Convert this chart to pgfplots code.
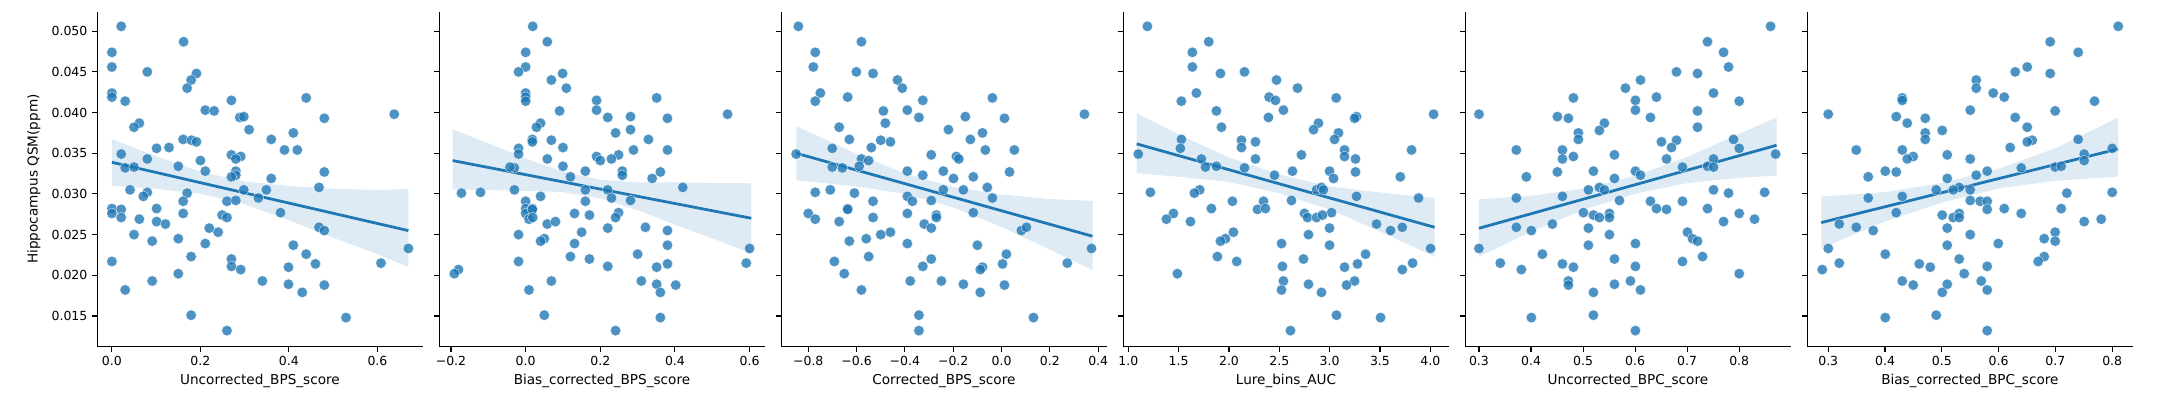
\documentclass[border=0pt]{standalone}
\usepackage{fontspec}
\setmainfont{DejaVu Sans}
\usepackage{pgfplots}
\pgfplotsset{compat=1.18}
\definecolor{sb}{HTML}{1F77B4}

\pgfplotsset{
  panel/.style={
    scale only axis, width=234.2pt, height=241.2pt,
    anchor=south west,
    ymin=0.01123, ymax=0.0524,
    axis x line*=bottom, axis y line*=left,
    axis line style={-, line width=0.8pt, black},
    tick align=outside, major tick length=3.6pt,
    every tick/.style={black, line width=0.8pt},
    scaled x ticks=false, scaled y ticks=false,
    ytick={0.015,0.020,0.025,0.030,0.035,0.040,0.045,0.050},
    yticklabels={},
    tick label style={font=\fontsize{9}{10}\selectfont},
    label style={font=\fontsize{9.8}{11}\selectfont},
    xlabel style={at={(axis description cs:0.5,-0.1016)}, anchor=center},
    ylabel style={at={(axis description cs:-0.1947,0.5)}, anchor=center},
  },
  pts/.style={only marks, mark=*, mark size=3.8pt,
    mark options={fill=sb, draw=white, line width=0.3pt, opacity=0.8}},
  fit/.style={sb, line width=2pt, no marks},
  band/.style={draw=none, fill=sb, fill opacity=0.15, no marks},
}

\begin{document}
\begin{tikzpicture}
\path[use as bounding box] (0,0) rectangle (1555.2pt,288pt);

% ---- panel 1
\begin{axis}[panel, at={(70.06pt,38.4pt)},
  xmin=-0.033, xmax=0.702,
  xtick={0,0.2,0.4,0.6}, xticklabels={0.0,0.2,0.4,0.6},
  yticklabels={0.015,0.020,0.025,0.030,0.035,0.040,0.045,0.050},
  xlabel={Uncorrected\_BPS\_score}, ylabel={Hippocampus QSM(ppm)}]
\addplot[pts] table {
0.021 0.0506
0.162 0.0487
0.000 0.0474
0.000 0.0456
0.080 0.0450
0.191 0.0448
0.179 0.0440
0.170 0.0430
0.000 0.0424
0.000 0.0419
0.030 0.0414
0.270 0.0415
0.439 0.0418
0.211 0.0403
0.231 0.0402
0.289 0.0394
0.298 0.0395
0.480 0.0393
0.638 0.0398
0.062 0.0387
0.050 0.0382
0.310 0.0379
0.410 0.0375
0.360 0.0367
0.161 0.0367
0.180 0.0366
0.191 0.0364
0.129 0.0357
0.101 0.0356
0.390 0.0354
0.419 0.0354
0.021 0.0349
0.270 0.0348
0.291 0.0346
0.280 0.0343
0.080 0.0343
0.200 0.0341
0.150 0.0334
0.030 0.0332
0.050 0.0333
0.211 0.0328
0.280 0.0328
0.280 0.0323
0.270 0.0321
0.480 0.0327
0.360 0.0319
0.468 0.0308
0.041 0.0305
0.080 0.0302
0.170 0.0301
0.298 0.0305
0.349 0.0305
0.071 0.0297
0.331 0.0295
0.161 0.0291
0.260 0.0291
0.280 0.0292
0.000 0.0282
0.021 0.0281
0.101 0.0282
0.000 0.0276
0.161 0.0276
0.381 0.0277
0.021 0.0271
0.062 0.0269
0.101 0.0266
0.121 0.0263
0.249 0.0274
0.260 0.0271
0.220 0.0258
0.240 0.0253
0.468 0.0259
0.480 0.0255
0.050 0.0250
0.150 0.0245
0.091 0.0242
0.211 0.0239
0.410 0.0237
0.670 0.0233
0.439 0.0226
0.179 0.0223
0.000 0.0217
0.270 0.0220
0.270 0.0211
0.460 0.0214
0.608 0.0215
0.399 0.0210
0.291 0.0207
0.150 0.0202
0.091 0.0193
0.340 0.0193
0.399 0.0189
0.480 0.0188
0.030 0.0182
0.430 0.0179
0.179 0.0151
0.529 0.0148
0.260 0.0132
};
\addplot[band] coordinates {
(0,0.03672) (0.1,0.03464) (0.2,0.03273) (0.3,0.03153) (0.4,0.03097) (0.5,0.03062) (0.6,0.0305) (0.67,0.0306)
(0.67,0.0210) (0.6,0.0226) (0.5,0.02462) (0.4,0.02677) (0.3,0.02873) (0.2,0.03003) (0.1,0.03064) (0,0.0310)};
\addplot[fit] coordinates {(0,0.03389) (0.67,0.02549)};
\end{axis}

% ---- panel 2
\begin{axis}[panel, at={(316.3pt,38.4pt)},
  xmin=-0.2313, xmax=0.6402,
  xtick={-0.2,0,0.2,0.4,0.6}, xticklabels={−0.2,0.0,0.2,0.4,0.6},
  xlabel={Bias\_corrected\_BPS\_score}]
\addplot[pts] table {
0.019 0.0506
0.058 0.0487
0.000 0.0474
0.000 0.0456
-0.019 0.0450
0.099 0.0448
0.069 0.0440
0.109 0.0430
0.000 0.0424
0.000 0.0419
0.000 0.0414
0.190 0.0415
0.351 0.0418
0.190 0.0403
0.091 0.0402
0.220 0.0394
0.281 0.0395
0.380 0.0393
0.541 0.0398
0.040 0.0387
0.029 0.0382
0.281 0.0379
0.241 0.0375
0.329 0.0367
0.018 0.0367
0.069 0.0366
0.018 0.0364
0.100 0.0357
-0.019 0.0356
0.289 0.0354
0.380 0.0354
-0.019 0.0349
0.190 0.0346
0.249 0.0348
0.230 0.0343
0.058 0.0343
0.200 0.0341
0.100 0.0334
-0.030 0.0332
-0.042 0.0333
0.160 0.0328
0.259 0.0328
0.259 0.0323
0.120 0.0321
0.361 0.0327
0.339 0.0319
0.421 0.0308
-0.030 0.0305
-0.172 0.0301
-0.121 0.0302
0.160 0.0305
0.220 0.0305
0.040 0.0297
0.230 0.0295
0.000 0.0291
0.160 0.0291
0.281 0.0292
0.000 0.0282
0.018 0.0282
0.000 0.0276
0.018 0.0281
0.131 0.0276
0.249 0.0277
0.009 0.0269
0.019 0.0271
0.058 0.0263
0.080 0.0266
0.171 0.0274
0.241 0.0271
0.220 0.0258
0.150 0.0253
0.321 0.0259
0.380 0.0255
-0.019 0.0250
0.050 0.0245
0.040 0.0242
0.131 0.0239
0.380 0.0237
0.600 0.0233
0.300 0.0226
0.120 0.0223
-0.019 0.0217
0.171 0.0220
0.220 0.0211
0.380 0.0214
0.591 0.0215
0.351 0.0210
-0.180 0.0207
-0.191 0.0202
0.069 0.0193
0.310 0.0193
0.351 0.0189
0.402 0.0188
0.009 0.0182
0.361 0.0179
0.050 0.0151
0.361 0.0148
0.241 0.0132
};
\addplot[band] coordinates {
(-0.1955,0.03795) (0,0.03437) (0.1,0.03273) (0.2,0.03175) (0.3,0.03141) (0.4,0.03142) (0.5,0.03134) (0.6045,0.03131)
(0.6045,0.02271) (0.5,0.02454) (0.4,0.02622) (0.3,0.02801) (0.2,0.02945) (0.1,0.03023) (0,0.03037) (-0.1955,0.03057)};
\addplot[fit] coordinates {(-0.1955,0.03410) (0.6045,0.02701)};
\end{axis}

% ---- panel 3
\begin{axis}[panel, at={(562.5pt,38.4pt)},
  xmin=-0.9118, xmax=0.4345,
  xtick={-0.8,-0.6,-0.4,-0.2,0,0.2,0.4},
  xticklabels={−0.8,−0.6,−0.4,−0.2,0.0,0.2,0.4},
  xlabel={Corrected\_BPS\_score}]
\addplot[pts] table {
-0.841 0.0506
-0.580 0.0487
-0.771 0.0474
-0.779 0.0456
-0.601 0.0450
-0.532 0.0448
-0.431 0.0440
-0.411 0.0430
-0.750 0.0424
-0.637 0.0419
-0.771 0.0414
-0.326 0.0415
-0.038 0.0418
-0.390 0.0403
-0.489 0.0402
-0.342 0.0394
-0.150 0.0395
0.012 0.0393
0.343 0.0398
-0.481 0.0387
-0.672 0.0382
-0.220 0.0379
-0.079 0.0375
-0.630 0.0367
-0.500 0.0366
-0.129 0.0367
-0.460 0.0364
-0.539 0.0357
-0.701 0.0356
-0.067 0.0354
0.053 0.0354
-0.850 0.0349
-0.291 0.0348
-0.187 0.0346
-0.177 0.0343
-0.580 0.0343
-0.550 0.0341
-0.589 0.0334
-0.701 0.0333
-0.659 0.0332
-0.390 0.0328
-0.241 0.0328
-0.326 0.0323
-0.199 0.0319
0.033 0.0327
-0.117 0.0321
-0.059 0.0308
-0.771 0.0302
-0.709 0.0305
-0.609 0.0301
-0.241 0.0305
-0.158 0.0305
-0.390 0.0297
-0.038 0.0295
-0.532 0.0291
-0.369 0.0291
-0.291 0.0292
-0.637 0.0282
-0.637 0.0281
-0.800 0.0276
-0.390 0.0276
-0.117 0.0277
-0.270 0.0274
-0.771 0.0269
-0.672 0.0266
-0.532 0.0271
-0.320 0.0263
-0.270 0.0271
-0.291 0.0258
-0.500 0.0250
-0.460 0.0253
0.082 0.0255
0.103 0.0259
-0.560 0.0245
-0.630 0.0242
-0.390 0.0239
-0.100 0.0237
0.372 0.0233
0.020 0.0226
-0.550 0.0223
-0.692 0.0217
-0.291 0.0220
-0.326 0.0211
0.004 0.0214
0.272 0.0215
-0.079 0.0210
-0.088 0.0207
-0.651 0.0202
-0.378 0.0193
-0.249 0.0193
-0.158 0.0189
0.012 0.0188
-0.580 0.0182
-0.088 0.0179
-0.342 0.0151
0.132 0.0148
-0.342 0.0132
};
\addplot[band] coordinates {
(-0.8497,0.03832) (-0.6,0.03492) (-0.4,0.03251) (-0.2,0.03085) (0,0.02993) (0.2,0.02937) (0.3765,0.02914)
(0.3765,0.02066) (0.2,0.02317) (0,0.02593) (-0.2,0.02835) (-0.4,0.03001) (-0.6,0.03092) (-0.8497,0.03168)};
\addplot[fit] coordinates {(-0.8497,0.03500) (0.3765,0.02480)};
\end{axis}

% ---- panel 4
\begin{axis}[panel, at={(808.8pt,38.4pt)},
  xmin=0.9503, xmax=4.1823,
  xtick={1,1.5,2,2.5,3,3.5,4},
  xticklabels={1.0,1.5,2.0,2.5,3.0,3.5,4.0},
  xlabel={Lure\_bins\_AUC}]
\addplot[pts] table {
1.189 0.0506
1.799 0.0487
1.636 0.0474
1.636 0.0456
1.915 0.0448
2.154 0.0450
2.472 0.0440
2.681 0.0430
1.676 0.0424
1.527 0.0414
2.399 0.0419
2.462 0.0415
3.065 0.0418
1.875 0.0402
2.541 0.0403
2.392 0.0394
3.267 0.0395
3.248 0.0393
4.033 0.0398
2.889 0.0387
1.925 0.0382
2.840 0.0379
3.088 0.0375
1.527 0.0367
2.124 0.0366
3.049 0.0367
2.263 0.0364
1.517 0.0356
2.124 0.0357
3.148 0.0354
3.814 0.0354
1.099 0.0349
2.720 0.0348
3.148 0.0346
3.257 0.0343
1.726 0.0343
2.263 0.0343
1.875 0.0334
1.766 0.0333
2.154 0.0332
2.631 0.0328
2.999 0.0328
3.257 0.0327
2.452 0.0323
3.039 0.0319
3.702 0.0321
3.884 0.0295
1.219 0.0302
1.709 0.0305
1.656 0.0301
2.870 0.0305
2.919 0.0308
2.939 0.0305
3.267 0.0297
2.034 0.0291
2.343 0.0291
2.621 0.0292
1.825 0.0282
2.283 0.0281
2.362 0.0282
1.448 0.0276
2.750 0.0276
3.019 0.0277
1.378 0.0269
1.617 0.0266
2.780 0.0271
2.870 0.0271
2.929 0.0274
2.999 0.0258
2.044 0.0253
2.790 0.0250
3.466 0.0263
3.606 0.0255
3.722 0.0259
1.965 0.0245
1.915 0.0242
2.522 0.0239
2.999 0.0237
4.003 0.0233
3.357 0.0226
1.885 0.0223
2.077 0.0217
2.740 0.0220
2.531 0.0211
3.277 0.0214
3.824 0.0215
3.148 0.0210
3.722 0.0207
1.487 0.0202
2.541 0.0193
3.248 0.0193
2.790 0.0189
3.168 0.0188
2.522 0.0182
2.919 0.0179
3.068 0.0151
3.506 0.0148
2.611 0.0132
};
\addplot[band] coordinates {
(1.083,0.03992) (1.5,0.03731) (2,0.03447) (2.5,0.03239) (3,0.03091) (3.5,0.03018) (4.043,0.02947)
(4.043,0.02230) (3.5,0.02538) (3,0.02811) (2.5,0.03009) (2,0.03147) (1.5,0.03211) (1.083,0.03254)};
\addplot[fit] coordinates {(1.083,0.03615) (4.043,0.02590)};
\end{axis}

% ---- panel 5
\begin{axis}[panel, at={(1055.0pt,38.4pt)},
  xmin=0.2737, xmax=0.8987,
  xtick={0.3,0.4,0.5,0.6,0.7,0.8},
  xticklabels={0.3,0.4,0.5,0.6,0.7,0.8},
  xlabel={Uncorrected\_BPC\_score}]
\addplot[pts] table {
0.8603 0.0506
0.7391 0.0487
0.7699 0.0474
0.7795 0.0456
0.6795 0.0450
0.7199 0.0448
0.6103 0.0440
0.5814 0.0430
0.7506 0.0424
0.4814 0.0418
0.6006 0.0415
0.6410 0.0419
0.8000 0.0414
0.6006 0.0403
0.7199 0.0402
0.3000 0.0398
0.4506 0.0395
0.4718 0.0393
0.6295 0.0394
0.5410 0.0387
0.5314 0.0378
0.7199 0.0382
0.4910 0.0375
0.4910 0.0367
0.6795 0.0366
0.7891 0.0367
0.6506 0.0364
0.6699 0.0357
0.3718 0.0354
0.4603 0.0354
0.8000 0.0356
0.8699 0.0349
0.5603 0.0348
0.4814 0.0346
0.4603 0.0343
0.6603 0.0343
0.7506 0.0343
0.6910 0.0333
0.7391 0.0334
0.7506 0.0333
0.3910 0.0321
0.4506 0.0327
0.5199 0.0328
0.6006 0.0328
0.6103 0.0323
0.5603 0.0319
0.5314 0.0308
0.5103 0.0305
0.5410 0.0305
0.7506 0.0305
0.7795 0.0301
0.8487 0.0302
0.3718 0.0295
0.4603 0.0297
0.5699 0.0292
0.6295 0.0291
0.6910 0.0291
0.6410 0.0282
0.6603 0.0281
0.7391 0.0282
0.5006 0.0277
0.5199 0.0274
0.5314 0.0271
0.5506 0.0276
0.5506 0.0271
0.8000 0.0276
0.8295 0.0269
0.7699 0.0266
0.4410 0.0263
0.3718 0.0259
0.4006 0.0255
0.5103 0.0258
0.7006 0.0253
0.5506 0.0250
0.7103 0.0245
0.7199 0.0242
0.6006 0.0239
0.5103 0.0237
0.3000 0.0233
0.4218 0.0226
0.7295 0.0223
0.5603 0.0220
0.6910 0.0217
0.3410 0.0215
0.4603 0.0214
0.6006 0.0211
0.4814 0.0210
0.3814 0.0207
0.8000 0.0202
0.4718 0.0193
0.5910 0.0193
0.4718 0.0188
0.5603 0.0189
0.6103 0.0182
0.5199 0.0179
0.5199 0.0151
0.4006 0.0148
0.6006 0.0132
};
\addplot[band] coordinates {
(0.3,0.02934) (0.4,0.02976) (0.5,0.03065) (0.6,0.03223) (0.7,0.03452) (0.8,0.03740) (0.8718,0.03939)
(0.8718,0.03225) (0.8,0.03200) (0.7,0.03132) (0.6,0.03003) (0.5,0.02805) (0.4,0.02536) (0.3,0.02230)};
\addplot[fit] coordinates {(0.3,0.02578) (0.8718,0.03598)};
\end{axis}

% ---- panel 6
\begin{axis}[panel, at={(1301.2pt,38.4pt)},
  xmin=0.2630, xmax=0.8358,
  xtick={0.3,0.4,0.5,0.6,0.7,0.8},
  xticklabels={0.3,0.4,0.5,0.6,0.7,0.8},
  xlabel={Bias\_corrected\_BPC\_score}]
\addplot[pts] table {
0.8106 0.0506
0.6908 0.0487
0.7401 0.0474
0.6504 0.0456
0.6292 0.0450
0.6908 0.0448
0.5606 0.0440
0.5606 0.0430
0.5905 0.0424
0.6099 0.0419
0.4303 0.0418
0.4303 0.0415
0.7689 0.0414
0.5500 0.0403
0.6996 0.0402
0.3000 0.0398
0.4197 0.0395
0.4708 0.0393
0.6292 0.0394
0.4391 0.0387
0.6504 0.0382
0.5007 0.0378
0.4708 0.0375
0.4708 0.0367
0.6592 0.0366
0.6504 0.0364
0.7401 0.0367
0.6204 0.0357
0.3493 0.0354
0.4303 0.0354
0.8000 0.0356
0.7507 0.0349
0.5095 0.0348
0.4496 0.0346
0.4391 0.0343
0.5500 0.0343
0.7507 0.0341
0.6398 0.0332
0.6996 0.0333
0.7102 0.0334
0.3704 0.0321
0.4004 0.0328
0.4197 0.0327
0.5799 0.0328
0.5606 0.0323
0.5095 0.0319
0.5306 0.0308
0.4901 0.0305
0.5201 0.0305
0.5500 0.0305
0.7202 0.0301
0.8000 0.0302
0.3704 0.0295
0.4303 0.0297
0.5500 0.0292
0.5676 0.0291
0.5799 0.0291
0.5799 0.0281
0.6099 0.0282
0.7102 0.0282
0.4197 0.0277
0.5007 0.0274
0.5201 0.0271
0.5306 0.0276
0.5306 0.0271
0.6398 0.0276
0.7806 0.0269
0.7507 0.0266
0.3194 0.0263
0.3493 0.0259
0.3792 0.0255
0.5095 0.0258
0.6996 0.0253
0.5500 0.0250
0.6803 0.0245
0.6996 0.0242
0.5993 0.0239
0.5095 0.0237
0.3000 0.0233
0.4004 0.0226
0.6803 0.0223
0.5306 0.0220
0.6697 0.0217
0.3194 0.0215
0.4602 0.0214
0.5799 0.0211
0.4796 0.0210
0.2894 0.0207
0.5394 0.0202
0.4303 0.0193
0.5694 0.0193
0.4496 0.0188
0.5095 0.0189
0.5799 0.0182
0.5007 0.0179
0.4901 0.0151
0.4004 0.0148
0.5799 0.0132
};
\addplot[band] coordinates {
(0.2877,0.02967) (0.4,0.03022) (0.5,0.03135) (0.6,0.03308) (0.7,0.03561) (0.8106,0.03939)
(0.8106,0.03213) (0.7,0.03161) (0.6,0.03068) (0.5,0.02895) (0.4,0.02662) (0.2877,0.02332)};
\addplot[fit] coordinates {(0.2877,0.02648) (0.8106,0.03553)};
\end{axis}
\end{tikzpicture}
\end{document}
